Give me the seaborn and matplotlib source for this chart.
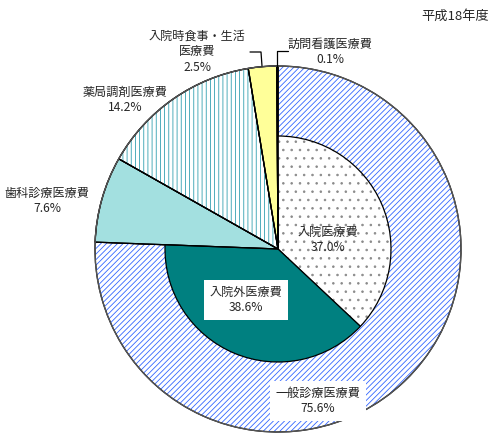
import numpy as np
import matplotlib
matplotlib.use("Agg")
import matplotlib.pyplot as plt
import seaborn as sns

# outer ring (clockwise from 12 o'clock)
outer_labels = ["一般診療医療費", "歯科診療医療費", "薬局調剤医療費", "入院時食事・生活\n医療費", "訪問看護医療費"]
outer_values = [75.6, 7.6, 14.2, 2.5, 0.1]
# inner split of 一般診療医療費
inner_labels = ["入院医療費", "入院外医療費"]
inner_values = [37.0, 38.6]
year_label = "平成18年度"

sns.set_style("white")
plt.rcParams["font.family"] = ["Noto Sans CJK JP", "DejaVu Sans"]
plt.rcParams["hatch.linewidth"] = 0.6

W, H = 501, 442
fig = plt.figure(figsize=(W / 100, H / 100), dpi=100)
ax = fig.add_axes([0, 0, 1, 1])
ax.set_xlim(0, W)
ax.set_ylim(H, 0)
ax.axis("off")

cx, cy = 278, 249
r_out, r_in = 183, 113


# y axis is flipped, so increasing angle runs clockwise on screen
def wedges(values, radius, fills, hatches, hcolors, rest=None):
    vals = list(values) + ([rest] if rest else [])
    total = sum(vals)
    start = -90.0
    for i, v in enumerate(vals):
        ang = 360 * v / total
        if i < len(values):
            w = matplotlib.patches.Wedge((cx, cy), radius, start, start + ang,
                                         facecolor=fills[i], edgecolor=hcolors[i],
                                         hatch=hatches[i], linewidth=0)
            ax.add_patch(w)
            o = matplotlib.patches.Wedge((cx, cy), radius, start, start + ang,
                                         fill=False, edgecolor="black", linewidth=0.9)
            ax.add_patch(o)
        start += ang


outer_fill = sns.color_palette(["#ffffff", "#a3e0e0", "#ffffff", "#ffff99", "#808080"])
outer_hatch = ["//////", None, "||||", None, None]
outer_hc = ["#3366ff", "#a3e0e0", "#33a0b0", "#ffff99", "#808080"]
wedges(outer_values, r_out, outer_fill, outer_hatch, outer_hc)

inner_fill = ["#ffffff", "#008080"]
inner_hatch = ["..", None]
inner_hc = ["#8a8a8a", "#008080"]
wedges(inner_values, r_in, inner_fill, inner_hatch, inner_hc,
       rest=100 - sum(inner_values))

# redraw boundaries of the other outer segments on top
start = -90 + 360 * outer_values[0] / 100
for v in outer_values[1:]:
    ax.add_patch(matplotlib.patches.Wedge((cx, cy), r_out, start, start + 360 * v / 100,
                                          fill=False, edgecolor="black", linewidth=0.9))
    start += 360 * v / 100
ax.add_patch(matplotlib.patches.Circle((cx, cy), r_out, fill=False,
                                       edgecolor="#555555", linewidth=1.0))

fs = 8.7
ax.text(455, 16, year_label, ha="center", va="center", fontsize=9.5)


def lab(x, y, name, val, box=False):
    t = ax.text(x, y, f"{name}\n{val:.1f}%", ha="center", va="center",
                fontsize=fs, linespacing=1.25)
    if box:
        t.set_bbox(dict(facecolor="white", edgecolor="none", pad=4))


lab(318, 401, outer_labels[0], outer_values[0], box=True)
lab(47, 201, outer_labels[1], outer_values[1])
lab(125, 100, outer_labels[2], outer_values[2])
lab(197, 52, outer_labels[3], outer_values[3])
lab(330, 52, outer_labels[4], outer_values[4])
lab(328, 240, inner_labels[0], inner_values[0])
lab(246, 300, inner_labels[1], inner_values[1], box=True)

# leader lines
ax.plot([262, 261, 250], [66, 52, 52], color="black", linewidth=0.9)
ax.plot([277.5, 277.5, 288], [66, 51, 51], color="black", linewidth=0.9)

fig.savefig("out.png", dpi=100)
